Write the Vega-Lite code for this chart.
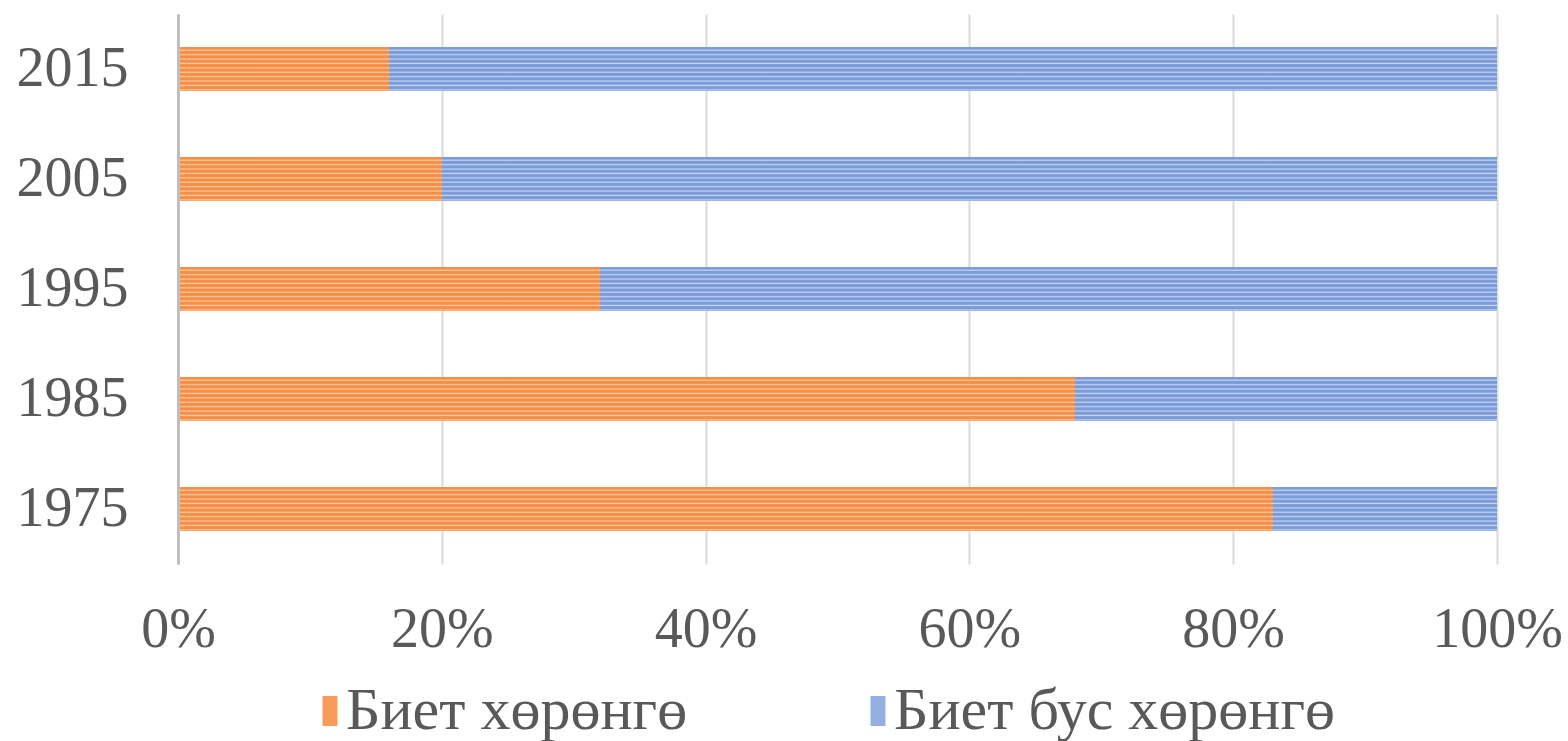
{
  "$schema": "https://vega.github.io/schema/vega-lite/v6.json",
  "autosize": "none",
  "width": 1319,
  "height": 550,
  "padding": {"left": 178, "top": 14, "right": 71, "bottom": 177},
  "background": "#ffffff",
  "data": {
    "values": [
      {"year": "2015", "series": "Биет хөрөнгө", "order": 1, "value": 16},
      {"year": "2015", "series": "Биет бус хөрөнгө", "order": 2, "value": 84},
      {"year": "2005", "series": "Биет хөрөнгө", "order": 1, "value": 20},
      {"year": "2005", "series": "Биет бус хөрөнгө", "order": 2, "value": 80},
      {"year": "1995", "series": "Биет хөрөнгө", "order": 1, "value": 32},
      {"year": "1995", "series": "Биет бус хөрөнгө", "order": 2, "value": 68},
      {"year": "1985", "series": "Биет хөрөнгө", "order": 1, "value": 68},
      {"year": "1985", "series": "Биет бус хөрөнгө", "order": 2, "value": 32},
      {"year": "1975", "series": "Биет хөрөнгө", "order": 1, "value": 83},
      {"year": "1975", "series": "Биет бус хөрөнгө", "order": 2, "value": 17}
    ]
  },
  "transform": [
    {"stack": "value", "groupby": ["year"], "sort": [{"field": "order", "order": "ascending"}], "offset": "normalize", "as": ["x0", "x1"]}
  ],
  "encoding": {
    "y": {
      "field": "year",
      "type": "nominal",
      "sort": ["2015", "2005", "1995", "1985", "1975"],
      "scale": {"paddingInner": 0.6, "paddingOuter": 0.3},
      "axis": {
        "title": null,
        "ticks": false,
        "domain": true,
        "domainColor": "#bfbfbf",
        "domainWidth": 3,
        "labelFont": "Liberation Serif",
        "labelFontSize": 56,
        "labelColor": "#595959",
        "labelPadding": 50,
        "grid": false,
        "zindex": 1
      }
    },
    "x": {
      "field": "x0",
      "type": "quantitative",
      "scale": {"domain": [0, 1], "nice": false},
      "axis": {
        "title": null,
        "format": ".0%",
        "values": [0, 0.2, 0.4, 0.6, 0.8, 1],
        "ticks": false,
        "domain": false,
        "grid": true,
        "gridColor": "#d9d9d9",
        "gridWidth": 2,
        "labelFont": "Liberation Serif",
        "labelFontSize": 56,
        "labelColor": "#595959",
        "labelPadding": 38,
        "labelFlush": false
      }
    },
    "x2": {"field": "x1"}
  },
  "layer": [
    {
      "mark": {"type": "bar"},
      "encoding": {
        "color": {
          "field": "series",
          "type": "nominal",
          "sort": ["Биет хөрөнгө", "Биет бус хөрөнгө"],
          "scale": {
            "domain": ["Биет хөрөнгө", "Биет бус хөрөнгө"],
            "range": ["#f89c5c", "#94afe2"]
          },
          "legend": {
            "title": null,
            "orient": "none",
            "legendX": 122,
            "legendY": 667,
            "direction": "horizontal",
            "labelFont": "Liberation Serif",
            "labelFontSize": 60,
            "labelColor": "#595959",
            "labelLimit": 800,
            "labelOffset": -14,
            "symbolType": "M-0.5,-1H0.5V1H-0.5Z",
            "symbolSize": 900,
            "symbolStrokeWidth": 0,
            "symbolOpacity": 1,
            "columnPadding": 160
          }
        }
      }
    },
    {
      "transform": [{"filter": "datum.order === 1"}],
      "mark": {"type": "bar", "color": {"gradient": "linear", "x1": 0, "y1": 0, "x2": 0, "y2": 1, "stops": [
            {"offset": 0, "color": "#f68e45"}, {"offset": 0.045, "color": "#f68e45"}, {"offset": 0.075, "color": "#fcc9a2"},
            {"offset": 0.1, "color": "#f68e45"}, {"offset": 0.145, "color": "#f68e45"}, {"offset": 0.175, "color": "#fcc9a2"},
            {"offset": 0.2, "color": "#f68e45"}, {"offset": 0.245, "color": "#f68e45"}, {"offset": 0.275, "color": "#fcc9a2"},
            {"offset": 0.3, "color": "#f68e45"}, {"offset": 0.345, "color": "#f68e45"}, {"offset": 0.375, "color": "#fcc9a2"},
            {"offset": 0.4, "color": "#f68e45"}, {"offset": 0.445, "color": "#f68e45"}, {"offset": 0.475, "color": "#fcc9a2"},
            {"offset": 0.5, "color": "#f68e45"}, {"offset": 0.545, "color": "#f68e45"}, {"offset": 0.575, "color": "#fcc9a2"},
            {"offset": 0.6, "color": "#f68e45"}, {"offset": 0.645, "color": "#f68e45"}, {"offset": 0.675, "color": "#fcc9a2"},
            {"offset": 0.7, "color": "#f68e45"}, {"offset": 0.745, "color": "#f68e45"}, {"offset": 0.775, "color": "#fcc9a2"},
            {"offset": 0.8, "color": "#f68e45"}, {"offset": 0.845, "color": "#f68e45"}, {"offset": 0.875, "color": "#fcc9a2"},
            {"offset": 0.9, "color": "#f68e45"}, {"offset": 0.945, "color": "#f68e45"}, {"offset": 0.975, "color": "#fcc9a2"},
            {"offset": 1, "color": "#f68e45"}
          ]}},
      "encoding": {}
    },
    {
      "transform": [{"filter": "datum.order === 2"}],
      "mark": {"type": "bar", "color": {"gradient": "linear", "x1": 0, "y1": 0, "x2": 0, "y2": 1, "stops": [
            {"offset": 0, "color": "#7b9bd9"}, {"offset": 0.045, "color": "#7b9bd9"}, {"offset": 0.075, "color": "#c5d4f0"},
            {"offset": 0.1, "color": "#7b9bd9"}, {"offset": 0.145, "color": "#7b9bd9"}, {"offset": 0.175, "color": "#c5d4f0"},
            {"offset": 0.2, "color": "#7b9bd9"}, {"offset": 0.245, "color": "#7b9bd9"}, {"offset": 0.275, "color": "#c5d4f0"},
            {"offset": 0.3, "color": "#7b9bd9"}, {"offset": 0.345, "color": "#7b9bd9"}, {"offset": 0.375, "color": "#c5d4f0"},
            {"offset": 0.4, "color": "#7b9bd9"}, {"offset": 0.445, "color": "#7b9bd9"}, {"offset": 0.475, "color": "#c5d4f0"},
            {"offset": 0.5, "color": "#7b9bd9"}, {"offset": 0.545, "color": "#7b9bd9"}, {"offset": 0.575, "color": "#c5d4f0"},
            {"offset": 0.6, "color": "#7b9bd9"}, {"offset": 0.645, "color": "#7b9bd9"}, {"offset": 0.675, "color": "#c5d4f0"},
            {"offset": 0.7, "color": "#7b9bd9"}, {"offset": 0.745, "color": "#7b9bd9"}, {"offset": 0.775, "color": "#c5d4f0"},
            {"offset": 0.8, "color": "#7b9bd9"}, {"offset": 0.845, "color": "#7b9bd9"}, {"offset": 0.875, "color": "#c5d4f0"},
            {"offset": 0.9, "color": "#7b9bd9"}, {"offset": 0.945, "color": "#7b9bd9"}, {"offset": 0.975, "color": "#c5d4f0"},
            {"offset": 1, "color": "#7b9bd9"}
          ]}},
      "encoding": {}
    }
  ],
  "config": {
    "view": {"stroke": null}
  }
}
